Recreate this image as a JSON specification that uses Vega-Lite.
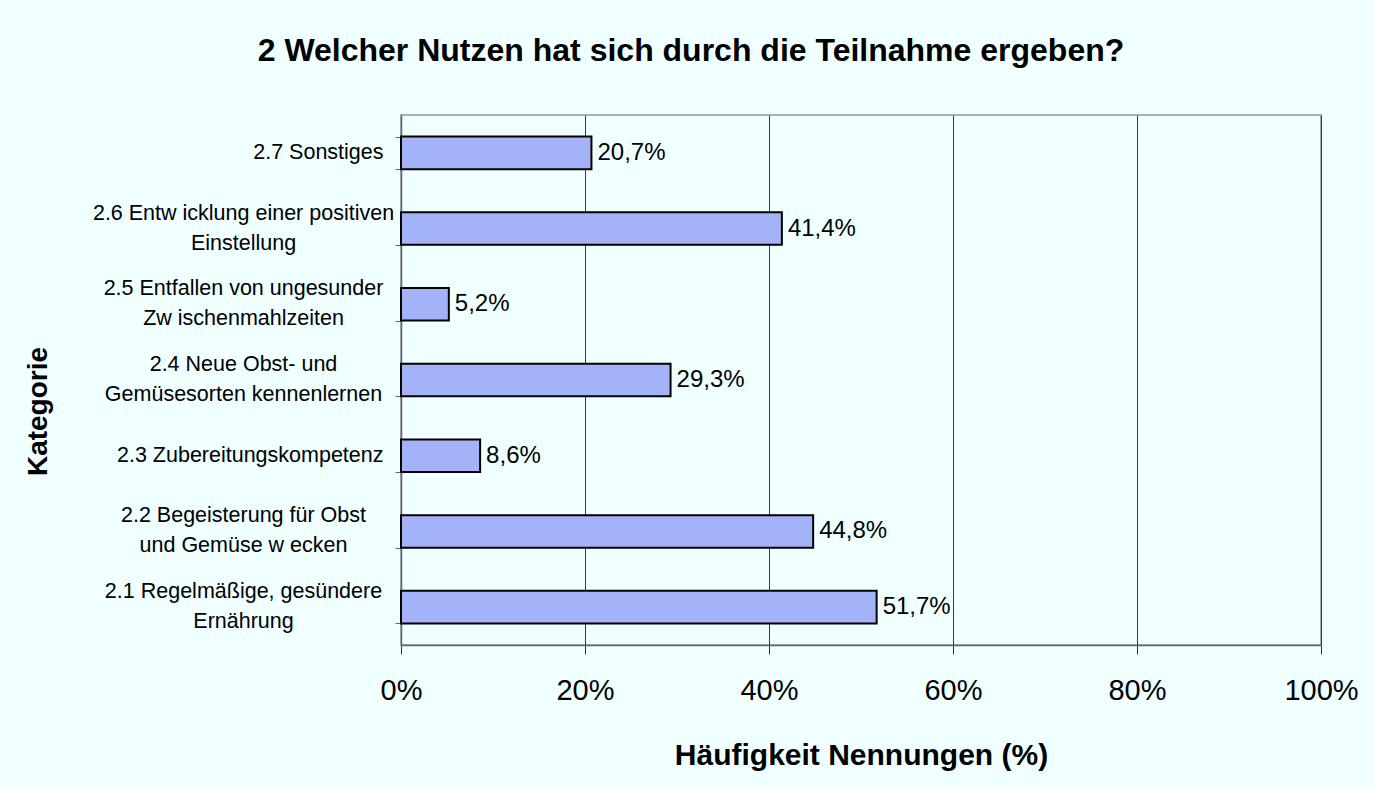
{
  "$schema": "https://vega.github.io/schema/vega-lite/v6.json",
  "width": 920,
  "height": 530,
  "autosize": "none",
  "padding": {"left": 401, "top": 115, "right": 53, "bottom": 142},
  "background": "#F0FFFF",
  "config": {
    "font": "Liberation Sans",
    "locale": {"number": {"decimal": ",", "thousands": ".", "grouping": [3], "currency": ["", " €"]}},
    "view": {"stroke": "#8A96A6", "strokeWidth": 1.5}
  },
  "title": {
    "text": "2 Welcher Nutzen hat sich durch die Teilnahme ergeben?",
    "font": "Liberation Sans",
    "fontSize": 32,
    "fontWeight": "bold",
    "color": "#000000",
    "anchor": "middle",
    "frame": "group",
    "dx": -170,
    "baseline": "alphabetic",
    "offset": 11
  },
  "data": {
    "values": [
      {"kategorie": "2.1 Regelmäßige, gesündere\nErnährung", "anteil": 0.517},
      {"kategorie": "2.2 Begeisterung für Obst\nund Gemüse w ecken", "anteil": 0.448},
      {"kategorie": "2.3 Zubereitungskompetenz", "anteil": 0.086},
      {"kategorie": "2.4 Neue Obst- und\nGemüsesorten kennenlernen", "anteil": 0.293},
      {"kategorie": "2.5 Entfallen von ungesunder\nZw ischenmahlzeiten", "anteil": 0.052},
      {"kategorie": "2.6 Entw icklung einer positiven\nEinstellung", "anteil": 0.414},
      {"kategorie": "2.7 Sonstiges", "anteil": 0.207}
    ]
  },
  "layer": [
    {
      "mark": {"type": "bar", "fill": "#A4B2F8", "stroke": "#000000", "strokeWidth": 2},
      "encoding": {
        "y": {
          "field": "kategorie",
          "type": "nominal",
          "sort": "descending",
          "scale": {"paddingInner": 0.57, "paddingOuter": 0.285},
          "axis": {
            "orient": "left",
            "title": "Kategorie",
            "titleFont": "Liberation Sans",
            "titleFontSize": 28,
            "titleFontWeight": "bold",
            "titleColor": "#000000",
            "titlePadding": 149,
            "titleY": 296,
            "labelExpr": "indexof(datum.label, '\\n') >= 0 ? '' : datum.label",
            "labelFont": "Liberation Sans",
            "labelFontSize": 21.5,
            "labelColor": "#000000",
            "labelAlign": "right",
            "labelPadding": 12,
            "labelLimit": 500,
            "tickSize": 6,
            "tickColor": "#666666",
            "tickBand": "extent",
            "domainColor": "#666666",
            "domainWidth": 1.5,
            "grid": false
          }
        },
        "x": {
          "field": "anteil",
          "type": "quantitative",
          "scale": {"domain": [0, 1]},
          "axis": {
            "title": "Häufigkeit Nennungen (%)",
            "titleFont": "Liberation Sans",
            "titleFontSize": 30,
            "titleFontWeight": "bold",
            "titleColor": "#000000",
            "titlePadding": 35,
            "values": [0, 0.2, 0.4, 0.6, 0.8, 1],
            "format": ".0%",
            "labelFont": "Liberation Sans",
            "labelFontSize": 29,
            "labelColor": "#000000",
            "labelPadding": 22,
            "labelFlush": false,
            "labelOverlap": false,
            "tickSize": 9,
            "tickColor": "#333333",
            "domainColor": "#666666",
            "domainWidth": 1.5,
            "grid": true,
            "gridColor": "#3A3A3A",
            "gridWidth": 1
          }
        }
      }
    },
    {
      "mark": {"type": "text", "align": "left", "baseline": "middle", "dx": 6, "font": "Liberation Sans", "fontSize": 24, "color": "#000000"},
      "encoding": {
        "y": {"field": "kategorie", "type": "nominal", "sort": "descending", "axis": null},
        "x": {"field": "anteil", "type": "quantitative"},
        "text": {"field": "anteil", "type": "quantitative", "format": ".1%"}
      }
    },
    {
      "mark": {"type": "bar", "opacity": 0},
      "encoding": {
        "y": {
          "field": "kategorie",
          "type": "nominal",
          "sort": "descending",
          "scale": {"paddingInner": 0.57, "paddingOuter": 0.285},
          "axis": {
            "orient": "left",
            "title": null,
            "labelExpr": "indexof(datum.label, '\\n') >= 0 ? split(datum.label, '\\n') : ''",
            "labelFont": "Liberation Sans",
            "labelFontSize": 21.5,
            "labelColor": "#000000",
            "labelLineHeight": 30,
            "labelAlign": "center",
            "labelBaseline": "line-bottom",
            "labelPadding": 152,
            "labelLimit": 500,
            "tickSize": 6,
            "tickOpacity": 0,
            "domain": false,
            "grid": false
          }
        },
        "x": {"field": "anteil", "type": "quantitative"}
      }
    }
  ],
  "resolve": {"axis": {"y": "independent"}}
}
